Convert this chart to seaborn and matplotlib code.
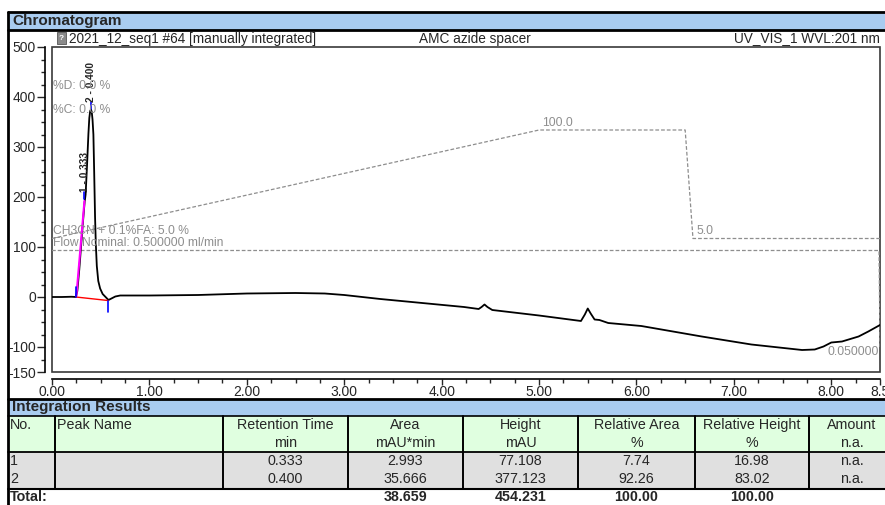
import matplotlib
matplotlib.use("Agg")
import matplotlib.pyplot as plt
import seaborn as sns
import pandas as pd
from matplotlib.patches import Rectangle
from matplotlib.ticker import MultipleLocator, FixedLocator

# UV trace (min, mAU)
trace_time = [0.00, 0.10, 0.20, 0.245, 0.26, 0.28, 0.30, 0.32, 0.335, 0.345, 0.36, 0.374,
              0.383, 0.392, 0.40, 0.408, 0.416, 0.425, 0.433, 0.442, 0.45, 0.46, 0.475,
              0.494, 0.52, 0.545, 0.58, 0.61, 0.65, 0.70, 1.00, 1.50, 2.00, 2.50, 2.80,
              3.00, 3.37, 3.80, 4.23, 4.38, 4.41, 4.44, 4.47, 4.52, 5.00, 5.43, 5.47,
              5.50, 5.53, 5.57, 5.62, 5.71, 6.05, 6.67, 7.18, 7.70, 7.83, 7.92, 8.00,
              8.11, 8.28, 8.38, 8.50]
trace_mau = [0, 0, 0.5, 0, 12, 55, 105, 155, 190, 205, 265, 327,
             358, 372, 375, 370, 355, 325, 250, 160, 105, 62, 32,
             17, 6, 1, -6, -3, 1, 3, 3, 4, 7, 8, 7,
             4, -4, -12, -20, -24, -20, -15, -20, -26, -37, -48, -35,
             -23, -33, -45, -46, -52, -58, -79, -95, -106, -105, -99, -91,
             -89, -79, -69, -56]

# gradient (%C) and flow programs
grad_time = [0.0, 5.0, 6.5, 6.58, 8.5]
grad_pct = [5.0, 100.0, 100.0, 5.0, 5.0]
flow_time = [0.0, 8.49, 8.5]
flow_ml = [0.5, 0.5, 0.05]

# integration
peak_no = ["1", "2"]
peak_rt = [0.333, 0.400]
peak_top = [197, 376]
bl_time = [0.245, 0.575]
bl_mau = [0, -7]

col_titles = ["No.", "Peak Name", "Retention Time", "Area", "Height",
              "Relative Area", "Relative Height", "Amount"]
col_units = ["", "", "min", "mAU*min", "mAU", "%", "%", "n.a."]
ret_time = ["0.333", "0.400"]
area = ["2.993", "35.666"]
height = ["77.108", "377.123"]
rel_area = ["7.74", "92.26"]
rel_height = ["16.98", "83.02"]
amount = ["n.a.", "n.a."]
totals = ["", "", "", "38.659", "454.231", "100.00", "100.00", ""]


def grad_y(p):
    return 117 + (p - 5) * 217 / 95


def flow_y(f):
    return 93 + (f - 0.5) * 193 / 0.45


sns.set_style("ticks")
plt.rcParams["font.family"] = ["Liberation Sans", "DejaVu Sans"]

W, H = 885, 505
fig = plt.figure(figsize=(W / 100, H / 100), dpi=100)

# page furniture in pixel coordinates
bg = fig.add_axes([0, 0, 1, 1], zorder=0)
bg.set_xlim(0, W)
bg.set_ylim(H, 0)
bg.axis("off")

blue = "#A9CCF0"
green = "#E0FFE0"
grey = "#E0E0E0"
tfs = 10.3

bg.add_patch(Rectangle((8, 12), W - 8, 18, fc=blue, ec="none"))
bg.plot([8, W], [12, 12], color="black", lw=2)
bg.plot([8, W], [30, 30], color="black", lw=2)
bg.plot([8, 8], [12, H], color="black", lw=2)
bg.text(12, 21.5, "Chromatogram", fontsize=11, fontweight="bold", va="center")

bg.add_patch(Rectangle((57, 32), 9, 12, fc="#8a8a8a", ec="#555555", lw=0.6))
bg.text(61.5, 38.5, "?", fontsize=6, color="white", ha="center", va="center", fontweight="bold")
bg.text(69, 38.5, "2021_12_seq1 #64 [manually integrated]", fontsize=9.8, va="center")
bg.text(475, 38.5, "AMC azide spacer", fontsize=9.8, va="center", ha="center")
bg.text(880, 38.5, "UV_VIS_1 WVL:201 nm", fontsize=9.8, va="center", ha="right")

# integration table
edges = [8, 55, 223, 348, 463, 578, 695, 809, W]
centers = [(a + b) / 2 for a, b in zip(edges[:-1], edges[1:])]
centers[-1] = 852
bg.add_patch(Rectangle((8, 399), W - 8, 17, fc=blue, ec="none"))
bg.add_patch(Rectangle((8, 416), W - 8, 36, fc=green, ec="none"))
bg.add_patch(Rectangle((8, 452), W - 8, 36, fc=grey, ec="none"))
bg.plot([8, W], [399, 399], color="black", lw=2)
bg.plot([8, W], [416, 416], color="black", lw=1.2)
bg.plot([8, W], [452, 452], color="black", lw=1.3)
bg.plot([8, W], [488.5, 488.5], color="black", lw=1.5)
for e in edges[1:-1]:
    bg.plot([e, e], [416, 488.5], color="black", lw=1.4)
bg.text(12, 407.5, "Integration Results", fontsize=11, fontweight="bold", va="center")

rows = [[n, "", r, a, h, ra, rh, am] for n, r, a, h, ra, rh, am in
        zip(peak_no, ret_time, area, height, rel_area, rel_height, amount)]
for i, (title, unit) in enumerate(zip(col_titles, col_units)):
    if i < 2:
        bg.text(edges[i] + 2, 425, title, fontsize=tfs, va="center")
    else:
        bg.text(centers[i], 425, title, fontsize=tfs, va="center", ha="center")
        bg.text(centers[i], 443, unit, fontsize=tfs, va="center", ha="center")
for j, row in enumerate(rows):
    y = 461 + 18 * j
    for i, val in enumerate(row):
        if i == 0:
            bg.text(10, y, val, fontsize=tfs, va="center")
        elif val:
            bg.text(centers[i], y, val, fontsize=tfs, va="center", ha="center")
bg.text(10, 497, "Total:", fontsize=tfs, fontweight="bold", va="center")
for i, val in enumerate(totals):
    if val:
        bg.text(centers[i], 497, val, fontsize=tfs, fontweight="bold", va="center", ha="center")

# chromatogram axes
ax = fig.add_axes([52 / W, 1 - 372 / H, 828 / W, 325 / H], zorder=1)
ax.patch.set_alpha(0)

trace = pd.DataFrame({"time": trace_time, "mAU": trace_mau})
grad = pd.DataFrame({"time": grad_time, "y": [grad_y(p) for p in grad_pct]})
flow = pd.DataFrame({"time": flow_time, "y": [flow_y(f) for f in flow_ml]})

dash = (0, (3, 1.6))
sns.lineplot(data=grad, x="time", y="y", ax=ax, color="#8e8e8e", lw=0.9,
             linestyle=dash, estimator=None, sort=False)
sns.lineplot(data=flow, x="time", y="y", ax=ax, color="#8e8e8e", lw=0.9,
             linestyle=dash, estimator=None, sort=False)
sns.lineplot(data=trace, x="time", y="mAU", ax=ax, color="black", lw=1.3,
             estimator=None, sort=False)

# peak 1 skim, baseline, delimiters
ax.plot([bl_time[0] + 0.005, peak_rt[0]], [2, peak_top[0] - 5], color="#FF00FF", lw=1.5)
ax.plot(bl_time, bl_mau, color="red", lw=1)
ax.plot([bl_time[0], bl_time[0]], [bl_mau[0], bl_mau[0] + 20], color="blue", lw=1.2)
ax.plot([bl_time[1], bl_time[1]], [bl_mau[1], bl_mau[1] - 22], color="blue", lw=1.2)
for no, rt, top in zip(peak_no, peak_rt, peak_top):
    ax.plot([rt, rt], [top, top + 14], color="blue", lw=1.2)
    ax.text(rt + 0.005, top + 14, f"{no} - {rt:.3f}", rotation=90,
            ha="center", va="bottom", fontsize=7.3, fontweight="bold")

lab = "#8e8e8e"
gfs = 8.7
ax.text(0.01, 422, "%D: 0.0 %", color=lab, fontsize=gfs, va="center")
ax.text(0.01, 374, "%C: 0.0 %", color=lab, fontsize=gfs, va="center")
ax.text(0.01, 132, "CH3CN + 0.1%FA: 5.0 %", color=lab, fontsize=gfs, va="center")
ax.text(0.01, 108, "Flow Nominal: 0.500000 ml/min", color=lab, fontsize=gfs, va="center")
ax.text(grad_time[1] + 0.03, grad_y(100) + 14, "100.0", color=lab, fontsize=gfs, va="center")
ax.text(grad_time[3] + 0.04, grad_y(5) + 15, "5.0", color=lab, fontsize=gfs, va="center")
ax.text(8.49, -110, "0.050000", color=lab, fontsize=gfs, va="center", ha="right")

ax.set_xlim(0, 8.5)
ax.set_ylim(-150, 500)
ax.set_xlabel("")
ax.set_ylabel("")
xt = [0, 1, 2, 3, 4, 5, 6, 7, 8, 8.5]
ax.xaxis.set_major_locator(FixedLocator(xt))
ax.set_xticklabels([f"{v:.2f}" if v != 8.5 else "8.5" for v in xt], fontsize=10)
ax.xaxis.set_minor_locator(MultipleLocator(0.25))
yt = [-150, -100, 0, 100, 200, 300, 400, 500]
ax.yaxis.set_major_locator(FixedLocator(yt))
ax.set_yticklabels([str(v) for v in yt], fontsize=9.5)
ax.tick_params(axis="x", which="major", length=4, width=1, pad=0.5)
ax.tick_params(axis="y", which="major", length=6, width=1, pad=0.5)
ax.yaxis.set_minor_locator(MultipleLocator(25))
ax.tick_params(which="minor", length=3, width=1)

for s in ["left", "bottom"]:
    ax.spines[s].set_position(("outward", 5))
    ax.spines[s].set_linewidth(1.2)
    ax.spines[s].set_color("black")
for s in ["top", "right"]:
    ax.spines[s].set_visible(False)
ax.add_patch(Rectangle((0, 0), 1, 1, transform=ax.transAxes, fill=False,
                       ec="#3a3a3a", lw=1.2, clip_on=False))

fig.savefig("out.png", dpi=100)
